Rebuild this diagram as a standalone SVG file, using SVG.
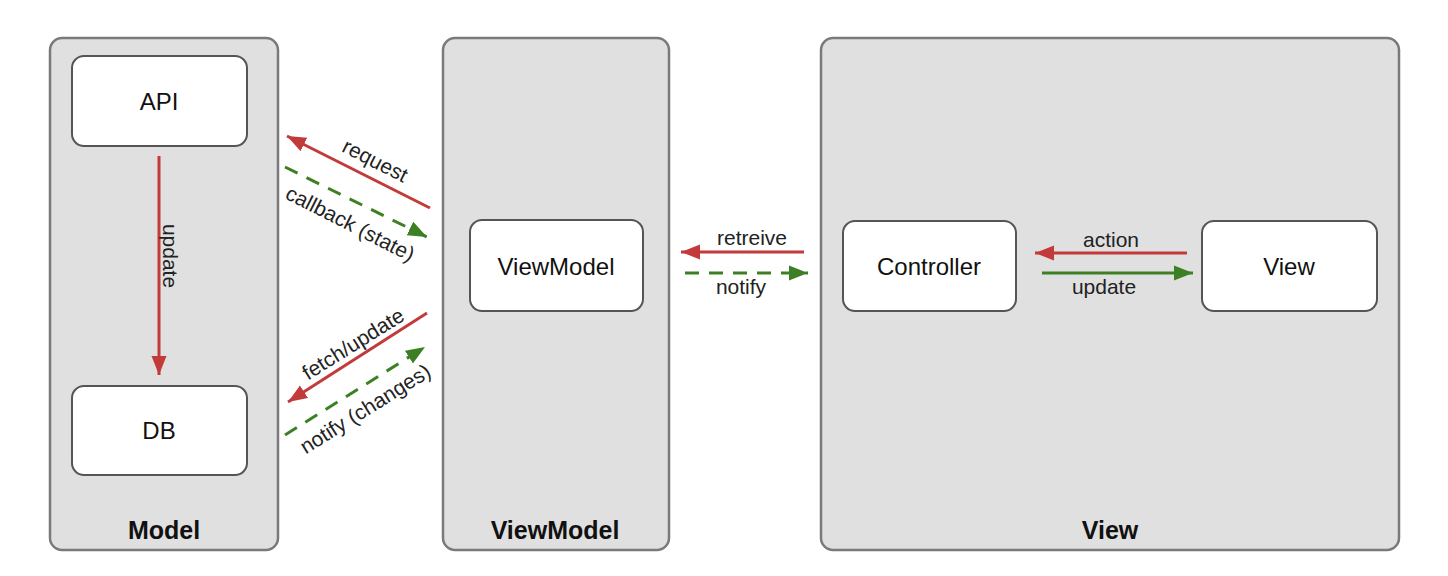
<svg xmlns="http://www.w3.org/2000/svg" width="1448" height="576" viewBox="0 0 1448 576">
<style>
.cont{fill:#e0e0e0;stroke:#7a7a7a;stroke-width:2.5}
.box{fill:#ffffff;stroke:#555555;stroke-width:2}
.title{font-family:"Liberation Sans",Arial,sans-serif;font-weight:bold;font-size:25px;fill:#111;text-anchor:middle}
.lbl{font-family:"Liberation Sans",Arial,sans-serif;font-size:24px;fill:#111;text-anchor:middle}
.el{font-family:"Liberation Sans",Arial,sans-serif;font-size:21px;fill:#222;text-anchor:middle}
.red{stroke:#c23a3a;stroke-width:3;fill:none}
.green{stroke:#3d8024;stroke-width:3;fill:none}
.dash{stroke-dasharray:14 10}
</style>
<defs>
<marker id="ar" markerUnits="userSpaceOnUse" markerWidth="22" markerHeight="18" refX="19" refY="9" orient="auto">
<path d="M0,1.5 L19,9 L0,16.5 Z" fill="#c23a3a"/>
</marker>
<marker id="ag" markerUnits="userSpaceOnUse" markerWidth="22" markerHeight="18" refX="19" refY="9" orient="auto">
<path d="M0,1.5 L19,9 L0,16.5 Z" fill="#3d8024"/>
</marker>
</defs>
<rect width="1448" height="576" fill="#ffffff"/>
<g id="model">
<rect class="cont" x="50" y="38" width="228" height="512" rx="12"/>
<text class="title" x="164" y="539">Model</text>
</g>
<g id="viewmodel-layer">
<rect class="cont" x="443" y="38" width="226" height="512" rx="12"/>
<text class="title" x="555" y="539">ViewModel</text>
</g>
<g id="view-layer">
<rect class="cont" x="821" y="38" width="578" height="512" rx="12"/>
<text class="title" x="1110" y="539">View</text>
</g>
<g id="api">
<rect class="box" x="72" y="56" width="175" height="90" rx="12"/>
<text class="lbl" x="159" y="110">API</text>
</g>
<g id="db">
<rect class="box" x="72" y="386" width="175" height="89" rx="12"/>
<text class="lbl" x="159" y="439">DB</text>
</g>
<g id="viewmodel">
<rect class="box" x="470" y="220" width="173" height="91" rx="12"/>
<text class="lbl" x="556" y="275">ViewModel</text>
</g>
<g id="controller">
<rect class="box" x="843" y="221" width="173" height="90" rx="12"/>
<text class="lbl" x="929" y="275">Controller</text>
</g>
<g id="view">
<rect class="box" x="1202" y="221" width="175" height="90" rx="12"/>
<text class="lbl" x="1289" y="275">View</text>
</g>
<g id="connectors">
<line class="red" x1="159" y1="156" x2="159" y2="375" marker-end="url(#ar)"/>
<text class="el" transform="translate(163,256) rotate(90)">update</text>
<line class="red" x1="430" y1="208" x2="287" y2="136" marker-end="url(#ar)"/>
<text class="el" transform="translate(372,167) rotate(27)">request</text>
<line class="green dash" x1="285" y1="167" x2="427" y2="237" marker-end="url(#ag)"/>
<text class="el" transform="translate(347,230) rotate(27)">callback (state)</text>
<line class="red" x1="427" y1="313" x2="288" y2="402" marker-end="url(#ar)"/>
<text class="el" transform="translate(357,350) rotate(-32)">fetch/update</text>
<line class="green dash" x1="285" y1="435" x2="425" y2="347" marker-end="url(#ag)"/>
<text class="el" transform="translate(369,415) rotate(-32)">notify (changes)</text>
<line class="red" x1="804" y1="252" x2="681" y2="252" marker-end="url(#ar)"/>
<text class="el" x="752" y="245">retreive</text>
<line class="green dash" x1="685" y1="273" x2="808" y2="273" marker-end="url(#ag)"/>
<text class="el" x="741" y="294">notify</text>
<line class="red" x1="1187" y1="253" x2="1035" y2="253" marker-end="url(#ar)"/>
<text class="el" x="1111" y="247">action</text>
<line class="green" x1="1042" y1="273" x2="1193" y2="273" marker-end="url(#ag)"/>
<text class="el" x="1104" y="294">update</text>
</g>
</svg>
